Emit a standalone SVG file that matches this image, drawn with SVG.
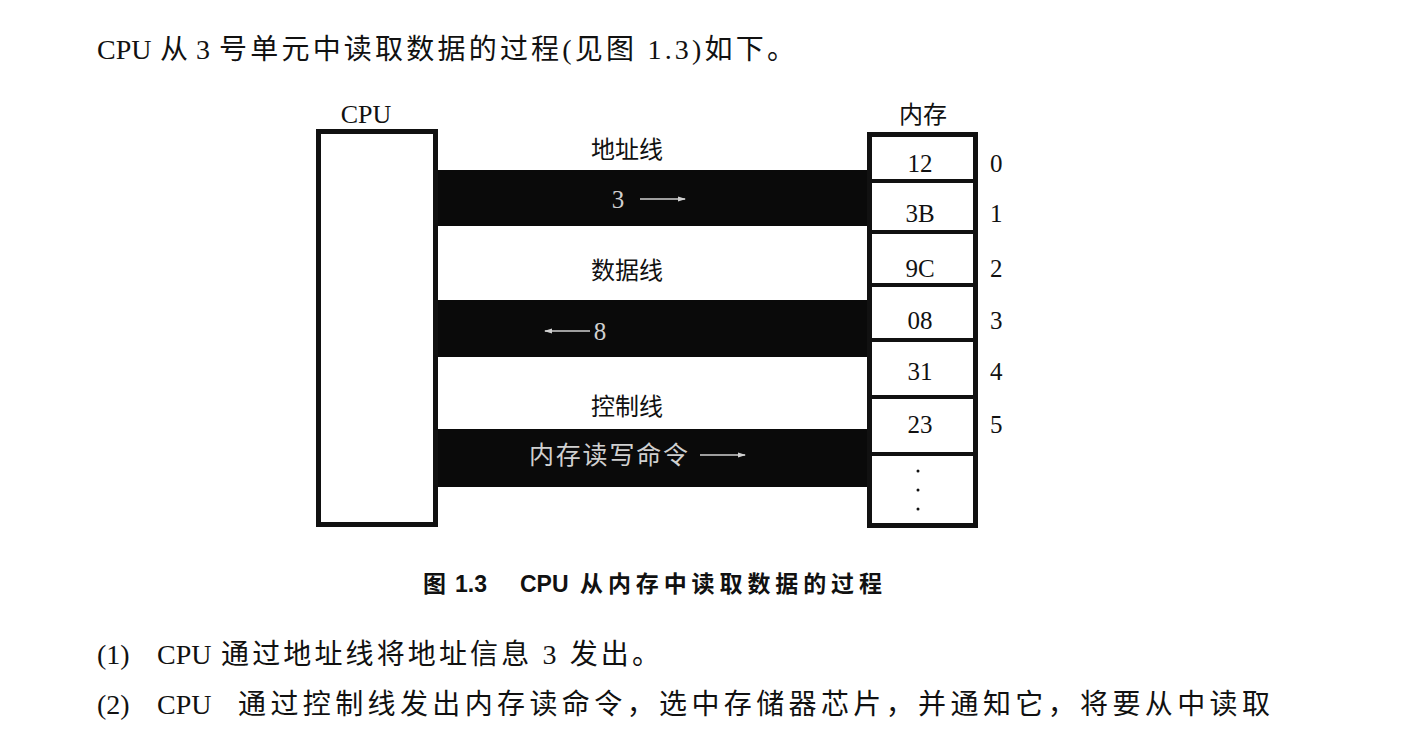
<svg xmlns="http://www.w3.org/2000/svg" width="1413" height="748" viewBox="0 0 1413 748">
<style>
.serif{font-family:"Liberation Serif","Noto Sans CJK SC",serif;fill:#111}
.cjk{font-family:"Noto Sans CJK SC","Liberation Serif",sans-serif;fill:#111}
.cap{font-family:"Liberation Sans","Noto Sans CJK SC",sans-serif;font-weight:bold;fill:#111}
.box{fill:#fff;stroke:#111;stroke-width:5}
.bar{fill:#0a0a0a}
.wt{fill:#d0d0d0}
.cell{font-family:"Liberation Serif",serif;font-size:25px;fill:#111;text-anchor:middle}
.idx{font-family:"Liberation Serif",serif;font-size:25px;fill:#111}
.arr{stroke:#d0d0d0;stroke-width:1.3;fill:none}
</style>
<defs>
<marker id="ah" markerWidth="8" markerHeight="6" refX="7" refY="3" orient="auto" markerUnits="userSpaceOnUse">
<path d="M0,0.5 L8,3 L0,5.5 z" fill="#d0d0d0"/>
</marker>
</defs>
<rect width="1413" height="748" fill="#fff"/>
<text y="59" class="serif" font-size="28"><tspan x="97">CPU</tspan><tspan x="160">从</tspan><tspan x="196">3</tspan><tspan x="219" textLength="576" lengthAdjust="spacing">号单元中读取数据的过程(见图 1.3)如下。</tspan></text>

<g id="connectors">
<rect class="bar" x="435" y="170" width="434" height="56"/>
<rect class="bar" x="435" y="300" width="434" height="57"/>
<rect class="bar" x="435" y="429" width="434" height="58"/>
<line class="arr" x1="640" y1="199" x2="685" y2="199" marker-end="url(#ah)"/>
<line class="arr" x1="590" y1="331" x2="545" y2="331" marker-end="url(#ah)"/>
<line class="arr" x1="700" y1="455" x2="745" y2="455" marker-end="url(#ah)"/>
<text x="618" y="208" class="wt" font-family="Liberation Serif,serif" font-size="25" text-anchor="middle">3</text>
<text x="600" y="340" class="wt" font-family="Liberation Serif,serif" font-size="25" text-anchor="middle">8</text>
<text x="529" y="464" class="wt" font-family="Noto Sans CJK SC,sans-serif" font-size="25" textLength="159" lengthAdjust="spacing">内存读写命令</text>
<text x="627" y="158" class="cjk" font-size="24" text-anchor="middle">地址线</text>
<text x="627" y="279" class="cjk" font-size="24" text-anchor="middle">数据线</text>
<text x="627" y="415" class="cjk" font-size="24" text-anchor="middle">控制线</text>
</g>

<g id="cpu">
<text x="366" y="123" class="serif" font-size="26" text-anchor="middle">CPU</text>
<rect class="box" x="318.5" y="131.5" width="117" height="393"/>
</g>

<g id="memory">
<text x="923" y="123" class="cjk" font-size="24" text-anchor="middle">内存</text>
<rect class="box" x="869.5" y="134.5" width="106" height="391"/>
<g stroke="#111" stroke-width="4">
<line x1="869" y1="181" x2="976" y2="181"/>
<line x1="869" y1="232" x2="976" y2="232"/>
<line x1="869" y1="285" x2="976" y2="285"/>
<line x1="869" y1="340" x2="976" y2="340"/>
<line x1="869" y1="397" x2="976" y2="397"/>
<line x1="869" y1="454" x2="976" y2="454"/>
</g>
<text class="cell" x="920" y="172">12</text>
<text class="cell" x="920" y="222">3B</text>
<text class="cell" x="920" y="277">9C</text>
<text class="cell" x="920" y="329">08</text>
<text class="cell" x="920" y="380">31</text>
<text class="cell" x="920" y="433">23</text>
<g fill="#111">
<circle cx="918" cy="471" r="1.5"/>
<circle cx="918" cy="490" r="1.5"/>
<circle cx="918" cy="509" r="1.5"/>
</g>
<text class="idx" x="990" y="172">0</text>
<text class="idx" x="990" y="222">1</text>
<text class="idx" x="990" y="277">2</text>
<text class="idx" x="990" y="329">3</text>
<text class="idx" x="990" y="380">4</text>
<text class="idx" x="990" y="433">5</text>
</g>

<text y="592" class="cap" font-size="23"><tspan x="423">图</tspan><tspan x="455">1.3</tspan><tspan x="520">CPU</tspan><tspan x="580" textLength="302" lengthAdjust="spacing">从内存中读取数据的过程</tspan></text>
<text y="664" class="serif" font-size="28"><tspan x="97">(1)</tspan><tspan x="157">CPU</tspan><tspan x="221" textLength="439" lengthAdjust="spacing">通过地址线将地址信息 3 发出。</tspan></text>
<text y="714" class="serif" font-size="28"><tspan x="97">(2)</tspan><tspan x="157">CPU</tspan><tspan x="238" textLength="1032" lengthAdjust="spacing">通过控制线发出内存读命令，选中存储器芯片，并通知它，将要从中读取</tspan></text>
</svg>
